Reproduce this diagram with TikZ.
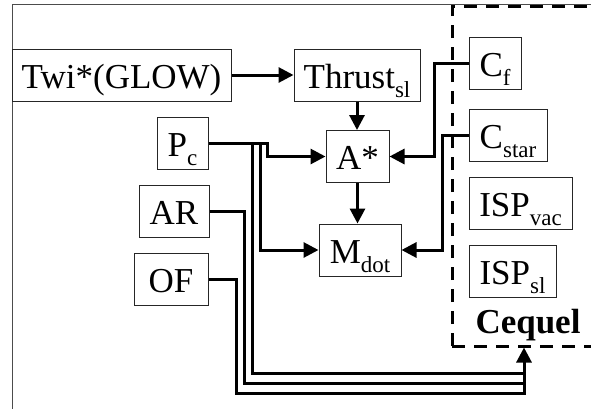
\documentclass[tikz,border=0pt]{standalone}
\usepackage{fontspec}
\setmainfont{Liberation Serif}
\usetikzlibrary{arrows.meta}
\newcommand\lowsub[1]{\raisebox{-9pt}{\fontsize{23}{23}\selectfont #1}}
\tikzset{
    blk/.style={draw=black!85, line width=1pt, inner xsep=0pt, inner ysep=0pt,
        text height=39pt, text depth=13pt, font=\fontsize{35}{40}\selectfont,
        minimum width=#1},
    blk/.default=60pt,
    wire/.style={line width=3pt},
    arr/.style={wire, -{Triangle[length=15pt,width=15pt]}}
}
\begin{document}
\begin{tikzpicture}[x=1pt,y=-1pt]
            \clip (0,0) rectangle (591,408);
            \draw[black!70, line width=1pt] (12,4.7) rectangle (700,500);
            \draw[line width=3pt, dash pattern=on 13pt off 9pt] (452,346) -- (452,6) -- (620,6);
            \draw[line width=3pt, dash pattern=on 13pt off 9pt] (452,346) -- (620,346);

            \node[blk=219pt] (twi) at (121.5,75) {Twi*(GLOW)};
            \node[blk=126pt] (thrust) at (357,75) {Thrust\lowsub{sl}};
            \node[blk=52pt] (cf) at (495,63) {C\lowsub{f}};
            \node[blk=78pt] (cstar) at (508,135) {C\lowsub{star}};
            \node[blk=63pt] (astar) at (357.5,156.5) {A*};
            \node[blk=103pt] (ispvac) at (520.5,203.5) {ISP\lowsub{vac}};
            \node[blk=87pt] (ispsl) at (512.5,271) {ISP\lowsub{sl}};
            \node[blk=82pt] (mdot) at (360,250) {M\lowsub{dot}};
            \node[blk=51pt] (pc) at (182.5,143) {P\lowsub{c}};
            \node[blk=70pt] (ar) at (174,211.5) {AR};
            \node[blk=74pt] (of) at (171,279.5) {OF};
            \node[font=\fontsize{35}{40}\selectfont\bfseries, anchor=base] (cequel) at (528,333) {Cequel};

            \coordinate (busend) at (524,393);
            \coordinate (cqin) at (524,347.5);

            \draw[arr] (twi) -- (thrust);
            \draw[arr] (thrust.south) -- (thrust.south |- astar.north);
            \draw[arr] (astar.south) -- (astar.south |- mdot.north);
            \draw[arr] (cf.west) -- ++(-34,0) |- (astar.east);
            \draw[arr] (cstar.west) -- ++(-26,0) |- (mdot.east);
            \draw[arr] (pc.east) -- ++(59,0) |- (astar.west);
            \draw[arr] (pc.east) -- ++(52,0) |- (mdot.west);
            \draw[wire] (pc.east) -- ++(44,0) |- ([yshift=20pt]busend);
            \draw[wire] (ar.east) -- ++(35,0) |- ([yshift=10pt]busend);
            \draw[arr] (of.east) -- ++(28,0) |- (busend) -- (cqin);
        \end{tikzpicture}
\end{document}
